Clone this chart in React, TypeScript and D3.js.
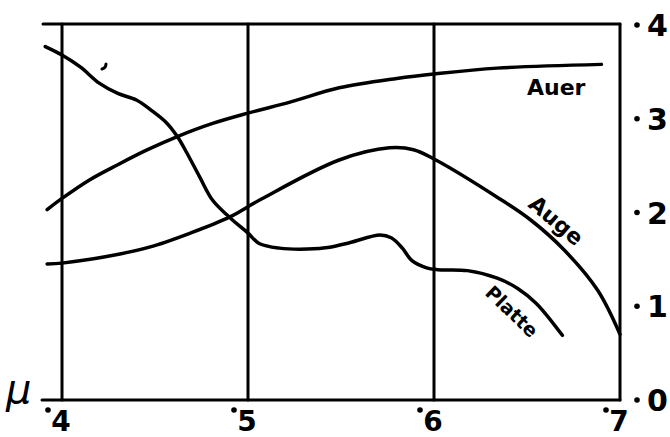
import React from 'react';
import * as d3 from 'd3';

// wavelength in μ
const auerX = [0.392, 0.4, 0.415, 0.43, 0.446, 0.462, 0.481, 0.5, 0.523, 0.549, 0.58, 0.601, 0.634, 0.69];
const auerY = [0.203, 0.215, 0.235, 0.251, 0.267, 0.281, 0.295, 0.306, 0.318, 0.333, 0.343, 0.348, 0.354, 0.358];

const augeX = [0.392, 0.4, 0.424, 0.447, 0.469, 0.49, 0.506, 0.549, 0.576, 0.589, 0.601, 0.635, 0.652, 0.67, 0.688, 0.7];
const augeY = [0.145, 0.146, 0.153, 0.163, 0.178, 0.195, 0.213, 0.256, 0.269, 0.267, 0.256, 0.215, 0.192, 0.16, 0.117, 0.07];

const platteX = [0.391, 0.4, 0.41, 0.42, 0.43, 0.44, 0.448, 0.456, 0.462, 0.467, 0.474, 0.481, 0.49, 0.5, 0.506,
  0.517, 0.532, 0.544, 0.555, 0.571, 0.577, 0.583, 0.588, 0.596, 0.602, 0.618, 0.634, 0.645, 0.655, 0.669];
const platteY = [0.377, 0.368, 0.355, 0.338, 0.327, 0.32, 0.309, 0.296, 0.281, 0.264, 0.238, 0.213, 0.195, 0.178, 0.167,
  0.162, 0.161, 0.163, 0.168, 0.176, 0.173, 0.162, 0.149, 0.141, 0.139, 0.138, 0.13, 0.119, 0.103, 0.069];

const xTicks = [0.4, 0.5, 0.6, 0.7];
const xTickLabels = ['4', '5', '6', '7'];
const yTicks = [0, 0.1, 0.2, 0.3, 0.4];
const yTickLabels = ['0', '1', '2', '3', '4'];

const FONT = '"DejaVu Sans", sans-serif';

export default function App() {
  const x = d3.scaleLinear().domain([0.4, 0.7]).range([62, 620]);
  const y = d3.scaleLinear().domain([0, 0.4]).range([400, 25]);

  const line = d3.line<[number, number]>()
    .x(d => x(d[0]))
    .y(d => y(d[1]))
    .curve(d3.curveCatmullRom.alpha(0.5));

  const series = [
    { xs: auerX, ys: auerY },
    { xs: augeX, ys: augeY },
    { xs: platteX, ys: platteY },
  ];

  const x1 = x(0.7), yb = y(0), yt = y(0.4);

  return (
    <svg width={670} height={437} style={{ position: 'absolute', left: 0, top: 0, background: '#fff' }}>
      {/* frame */}
      <g stroke="#000" strokeWidth={3} fill="none" strokeLinecap="round">
        <line x1={43} x2={x1} y1={yt - 1} y2={yt - 1} />
        <line x1={42} x2={x1} y1={yb} y2={yb} />
        <line x1={x1} x2={x1} y1={yt - 1} y2={yb} />
        {xTicks.slice(0, 3).map(t => (
          <line key={t} x1={x(t)} x2={x(t)} y1={yt - 1} y2={yb} />
        ))}
      </g>

      {/* curves */}
      <g stroke="#000" strokeWidth={3.5} fill="none" strokeLinecap="round">
        {series.map((s, i) => (
          <path key={i} d={line(s.xs.map((v, j) => [v, s.ys[j]]) as [number, number][]) || ''} />
        ))}
        <path d={`M${x(0.4215)},${y(0.353)} q4,-1 4,-5`} strokeWidth={3} />
      </g>

      {/* bottom axis labels */}
      {xTicks.map((t, i) => (
        <g key={t}>
          <circle cx={x(t) - 14} cy={410} r={2.8} fill="#000" />
          <text x={x(t) - 1} y={431} textAnchor="middle" fontFamily={FONT} fontWeight="bold" fontSize={28}>
            {xTickLabels[i]}
          </text>
        </g>
      ))}

      {/* right axis labels */}
      {yTicks.map((t, i) => (
        <g key={t}>
          <circle cx={637} cy={y(t)} r={2.8} fill="#000" />
          <text x={647} y={y(t) + 11} fontFamily={FONT} fontWeight="bold" fontSize={30}>
            {yTickLabels[i]}
          </text>
        </g>
      ))}

      <text x={6} y={403} fontFamily={FONT} fontStyle="italic" fontSize={40}>μ</text>

      {/* curve names */}
      <g fontFamily={FONT} fontWeight="bold" fontSize={22}>
        <text x={527} y={95}>Auer</text>
        <text x={0} y={0} transform="translate(527,206) rotate(40)">Auge</text>
        <text x={0} y={0} fontSize={19} transform="translate(484,294) rotate(44)">Platte</text>
      </g>
    </svg>
  );
}
